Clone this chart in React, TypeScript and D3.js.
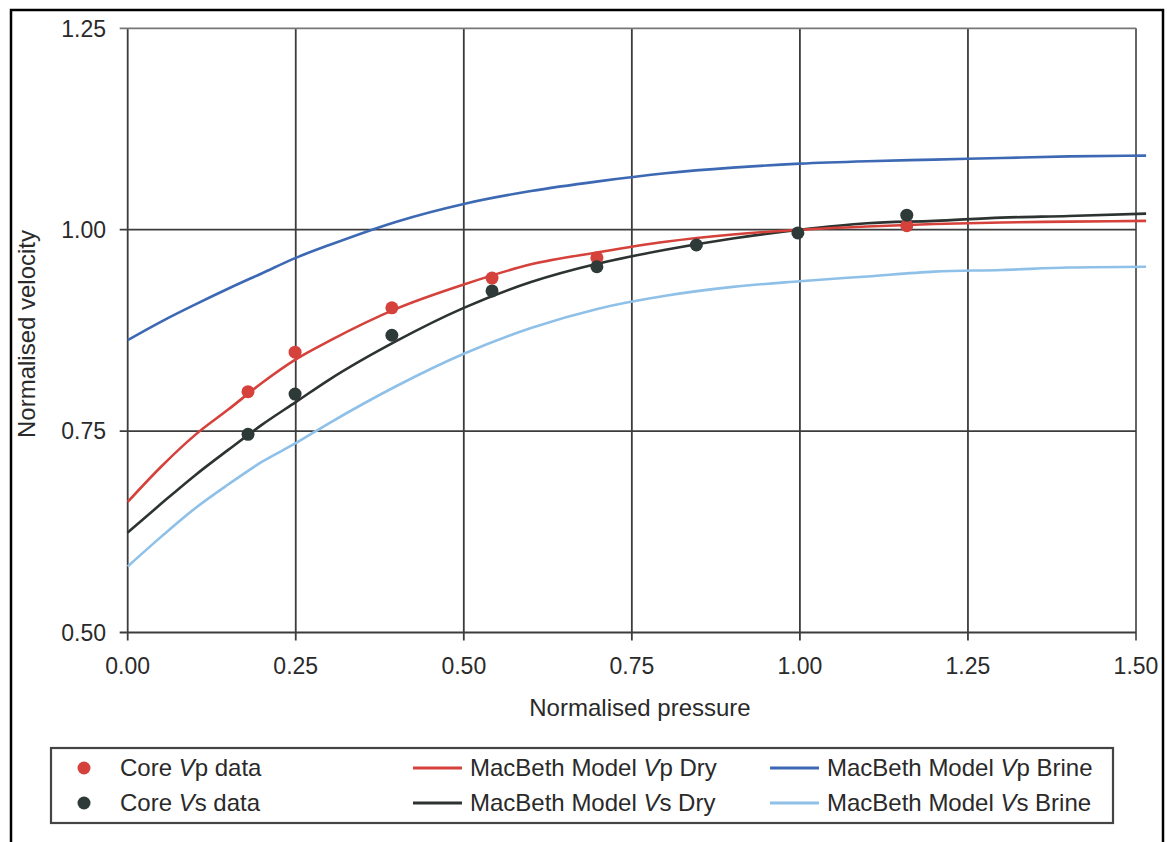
import React from "react";
import * as d3 from "d3";

const W = 1167;
const H = 842;

const xTicks = [0, 0.25, 0.5, 0.75, 1.0, 1.25, 1.5];
const yTicks = [0.5, 0.75, 1.0, 1.25];

// Model curve sample pressures
const modelX = [0, 0.05, 0.1, 0.15, 0.2, 0.25, 0.3, 0.4, 0.5, 0.6, 0.7, 0.8, 0.9, 1.0, 1.1, 1.2, 1.3, 1.4, 1.515];
const vpDry = [0.662, 0.706, 0.745, 0.777, 0.81, 0.839, 0.862, 0.902, 0.932, 0.957, 0.972, 0.985, 0.994, 1.0, 1.004, 1.007, 1.009, 1.01, 1.011];
const vsDry = [0.624, 0.66, 0.695, 0.727, 0.758, 0.786, 0.814, 0.862, 0.903, 0.935, 0.958, 0.975, 0.989, 1.0, 1.008, 1.011, 1.015, 1.017, 1.02];
const vpBrine = [0.863, 0.886, 0.907, 0.927, 0.946, 0.965, 0.981, 1.01, 1.032, 1.048, 1.06, 1.07, 1.077, 1.082, 1.085, 1.087, 1.089, 1.091, 1.092];
const vsBrine = [0.582, 0.619, 0.654, 0.684, 0.712, 0.735, 0.76, 0.806, 0.846, 0.878, 0.902, 0.918, 0.929, 0.936, 0.942, 0.948, 0.95, 0.953, 0.954];

// Core data
const coreVpX = [0.179, 0.249, 0.393, 0.542, 0.698, 1.159];
const coreVpY = [0.799, 0.848, 0.903, 0.94, 0.965, 1.005];
const coreVsX = [0.179, 0.249, 0.393, 0.542, 0.698, 0.846, 0.997, 1.159];
const coreVsY = [0.746, 0.796, 0.869, 0.924, 0.954, 0.981, 0.996, 1.018];

const RED = "#d5413b";
const DARK = "#2c3331";
const DOT_DARK = "#2d3a37";
const BLUE = "#3d69b4";
const LIGHT = "#8fc0e8";
const GRID = "#3c3c3c";
const FONT = "'Liberation Sans', Arial, sans-serif";

export default function App() {
  const x = d3.scaleLinear().domain([0, 1.5]).range([127.7, 1136]);
  const y = d3.scaleLinear().domain([0.5, 1.25]).range([632.5, 28.3]);

  const line = d3
    .line<[number, number]>()
    .x((d) => x(d[0]))
    .y((d) => y(d[1]))
    .curve(d3.curveMonotoneX);

  const series = [
    { vals: vsBrine, color: LIGHT },
    { vals: vpBrine, color: BLUE },
    { vals: vsDry, color: DARK },
    { vals: vpDry, color: RED },
  ];

  const legendLeft = [
    { label: "p data", color: RED, y: 768 },
    { label: "s data", color: DOT_DARK, y: 803 },
  ];
  const legendLines = [
    { x0: 413, sub: "p", rest: " Dry", color: RED, y: 768 },
    { x0: 413, sub: "s", rest: " Dry", color: DARK, y: 803 },
    { x0: 770, sub: "p", rest: " Brine", color: BLUE, y: 768 },
    { x0: 770, sub: "s", rest: " Brine", color: LIGHT, y: 803 },
  ];

  return (
    <svg
      width={W}
      height={H}
      style={{ position: "absolute", left: 0, top: 0, background: "#fff" }}
      fontFamily={FONT}
    >
      <rect x={0} y={0} width={W} height={H} fill="#fff" />
      {/* outer frame */}
      <rect x={11} y={10} width={1152} height={850} fill="none" stroke="#000" strokeWidth={2.5} />

      {/* grid lines vertical */}
      {xTicks.map((t) => (
        <line
          key={"gx" + t}
          x1={x(t)}
          x2={x(t)}
          y1={y(1.25)}
          y2={y(0.5) + 8}
          stroke={t === 1.5 ? "#555" : GRID}
          strokeWidth={1.8}
        />
      ))}
      {/* grid lines horizontal */}
      {yTicks.map((t) => (
        <line
          key={"gy" + t}
          x1={x(0) - 8}
          x2={x(1.5)}
          y1={y(t)}
          y2={y(t)}
          stroke={t === 1.25 ? "#777" : GRID}
          strokeWidth={1.8}
        />
      ))}

      {/* y tick labels */}
      {yTicks.map((t) => (
        <text
          key={"yl" + t}
          x={106}
          y={y(t)}
          dy="0.36em"
          textAnchor="end"
          fontSize={23}
          fill="#2a2a2a"
        >
          {d3.format(".2f")(t)}
        </text>
      ))}
      {/* x tick labels */}
      {xTicks.map((t) => (
        <text
          key={"xl" + t}
          x={x(t)}
          y={674}
          textAnchor="middle"
          fontSize={23}
          fill="#2a2a2a"
        >
          {d3.format(".2f")(t)}
        </text>
      ))}

      {/* axis titles */}
      <text x={640} y={716} textAnchor="middle" fontSize={24} fill="#2a2a2a">
        Normalised pressure
      </text>
      <text
        transform={`translate(35,334) rotate(-90)`}
        textAnchor="middle"
        fontSize={24}
        fill="#2a2a2a"
      >
        Normalised velocity
      </text>

      {/* model curves */}
      {series.map((s, i) => (
        <path
          key={"s" + i}
          d={line(modelX.map((v, j) => [v, s.vals[j]] as [number, number])) || ""}
          fill="none"
          stroke={s.color}
          strokeWidth={2.6}
          strokeLinejoin="round"
        />
      ))}

      {/* core points */}
      {coreVpX.map((v, i) => (
        <circle key={"cp" + i} cx={x(v)} cy={y(coreVpY[i])} r={6.5} fill={RED} />
      ))}
      {coreVsX.map((v, i) => (
        <circle key={"cs" + i} cx={x(v)} cy={y(coreVsY[i])} r={6.5} fill={DOT_DARK} />
      ))}

      {/* legend */}
      <rect x={51} y={748} width={1062} height={75} fill="#fff" stroke="#444" strokeWidth={2.2} />
      {legendLeft.map((l, i) => (
        <g key={"ll" + i}>
          <circle cx={84} cy={l.y} r={6.5} fill={l.color} />
          <text x={120} y={l.y + 8} fontSize={24} fill="#2a2a2a">
            Core <tspan fontStyle="italic">V</tspan>
            {l.label}
          </text>
        </g>
      ))}
      {legendLines.map((l, i) => (
        <g key={"lg" + i}>
          <line x1={l.x0} x2={l.x0 + 49} y1={l.y} y2={l.y} stroke={l.color} strokeWidth={3} />
          <text x={l.x0 + 57} y={l.y + 8} fontSize={24} fill="#2a2a2a">
            MacBeth Model <tspan fontStyle="italic">V</tspan>
            {l.sub}
            {l.rest}
          </text>
        </g>
      ))}
    </svg>
  );
}
